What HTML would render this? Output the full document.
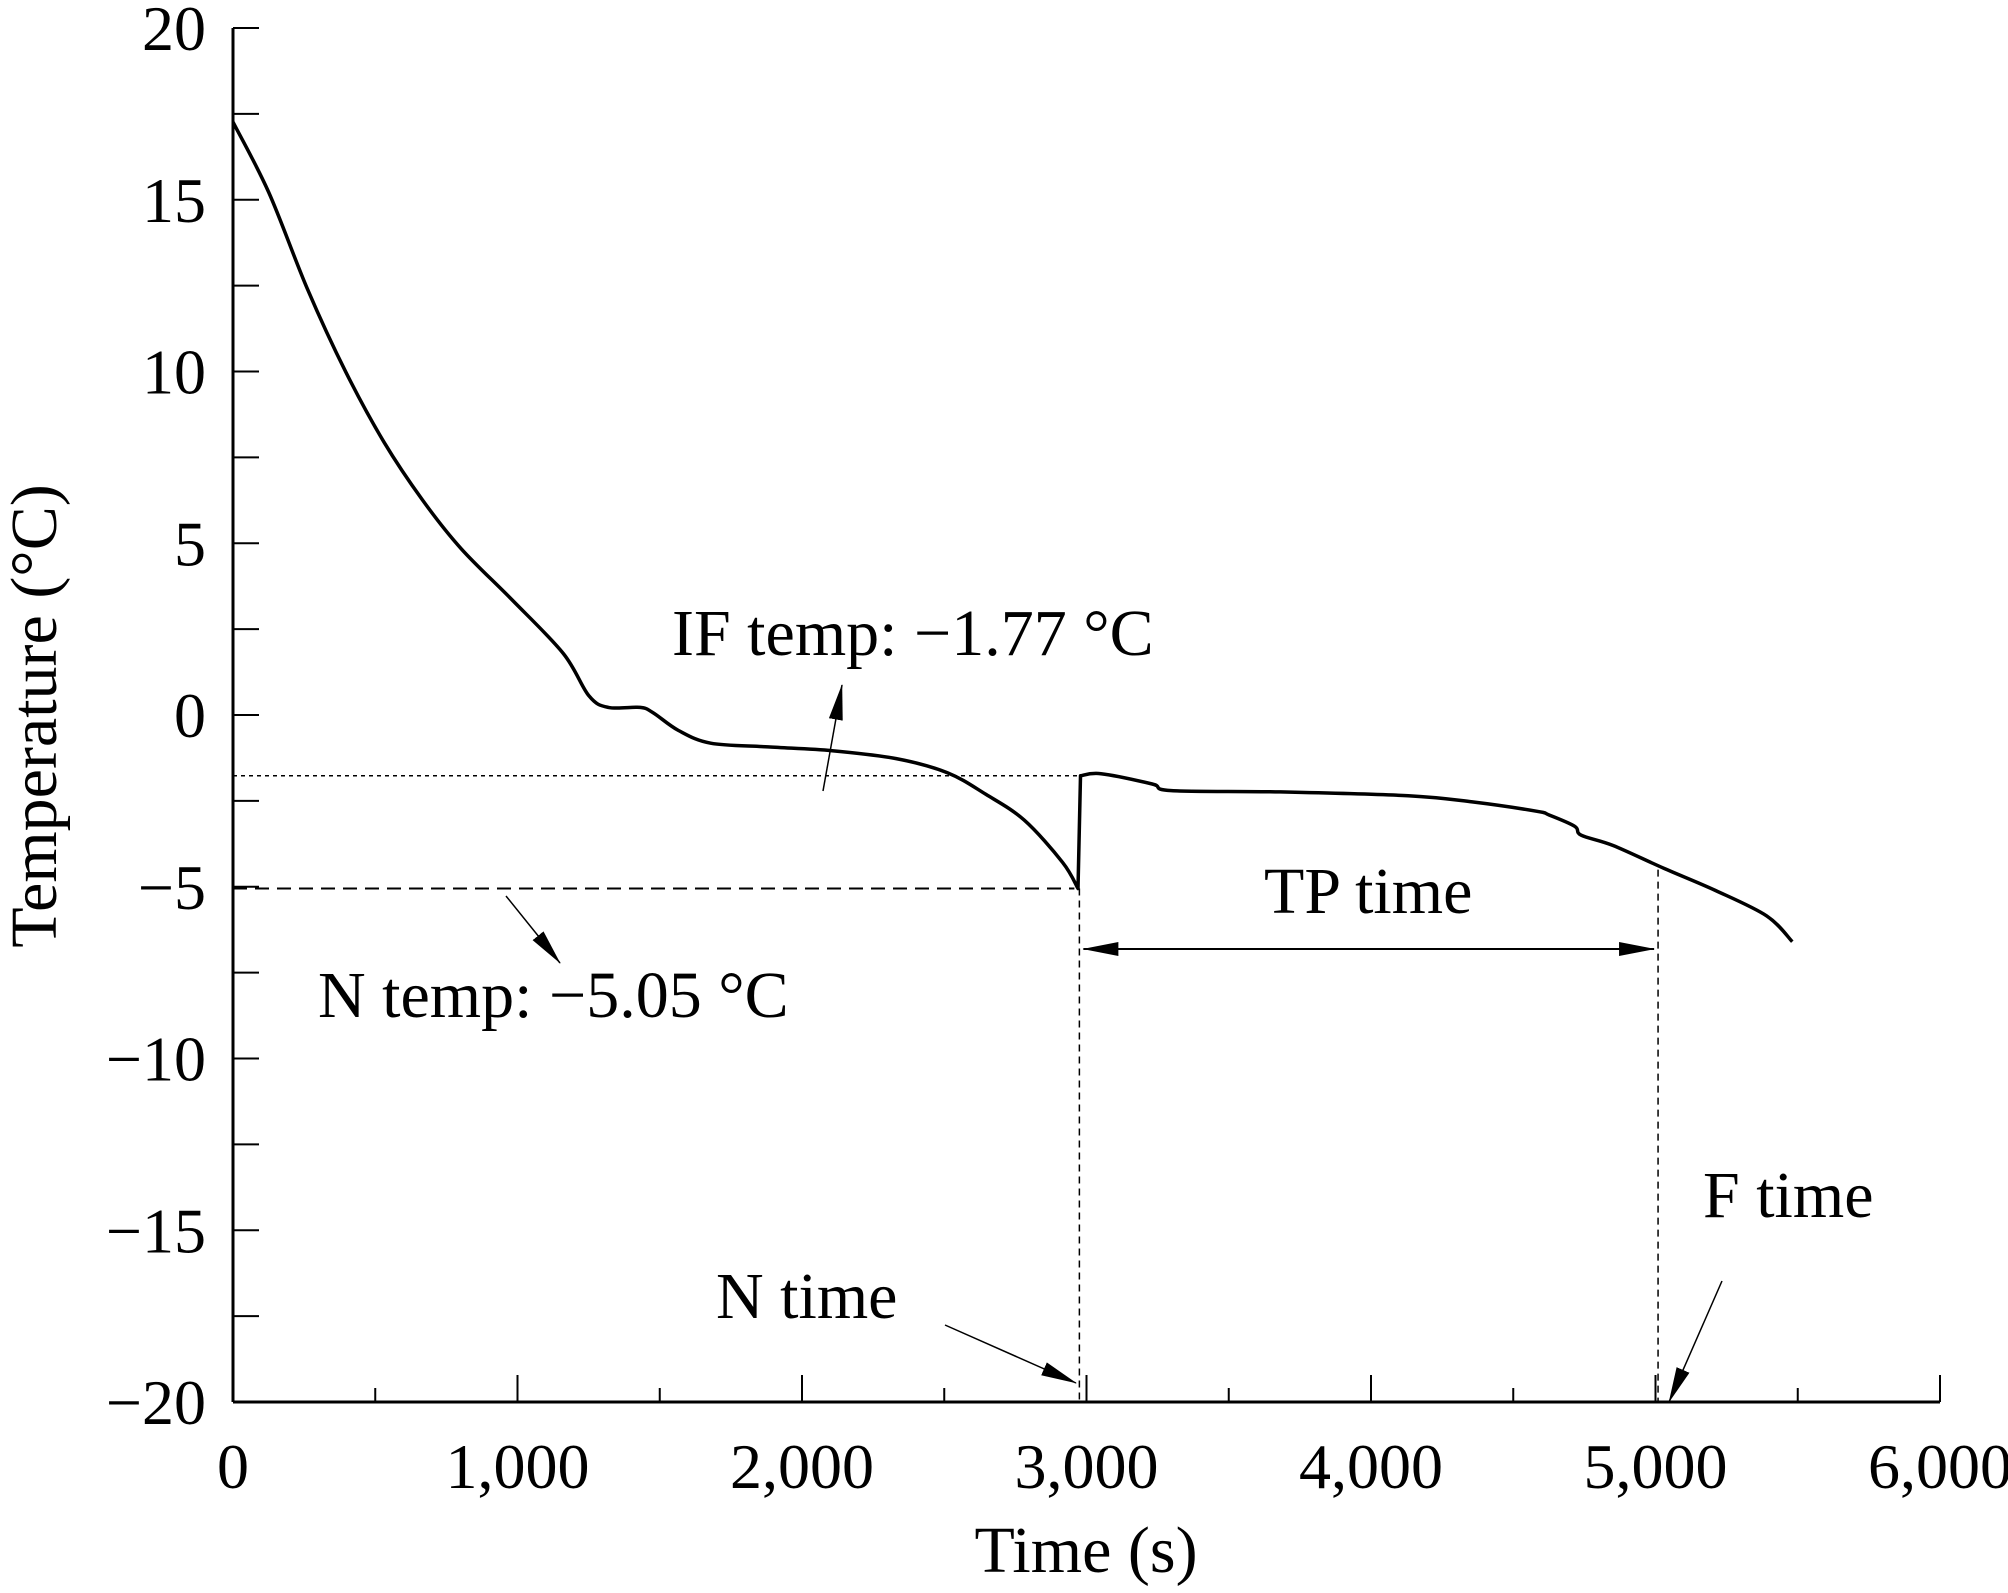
<!DOCTYPE html>
<html><head><meta charset="utf-8"><style>
html,body{margin:0;padding:0;background:#fff;}
svg{display:block;font-family:"Liberation Serif",serif;}
</style></head><body>
<svg id="chart" width="2008" height="1593" viewBox="0 0 2008 1593" xmlns="http://www.w3.org/2000/svg">
<defs>
<marker id="ahs" markerWidth="36" markerHeight="14" refX="35" refY="7" orient="auto-start-reverse" markerUnits="userSpaceOnUse" viewBox="0 0 36 14"><path d="M0,0 L36,7 L0,14 z" fill="#000"/></marker>
</defs>
<g id="axes"></g>
<g id="annot"></g>
<g id="series"></g>
</svg>
<script>
const times = [0,126,261,396,531,666,801,981,1161,1251,1319,1431,1476,1566,1679,1881,2106,2331,2511,2646,2781,2916,2970,2979,3051,3231,3299,3681,4131,4356,4581,4626,4716,4739,4851,5031,5211,5391,5481];
const temps = [17.26,15.21,12.41,9.99,7.94,6.26,4.85,3.35,1.79,0.56,0.22,0.22,0.07,-0.45,-0.82,-0.93,-1.04,-1.27,-1.68,-2.31,-3.06,-4.29,-5.05,-1.77,-1.71,-2.01,-2.2,-2.24,-2.35,-2.53,-2.80,-2.91,-3.24,-3.50,-3.80,-4.47,-5.11,-5.85,-6.60];
const xTicks = [0,1000,2000,3000,4000,5000,6000];
const xTickLabels = ["0","1,000","2,000","3,000","4,000","5,000","6,000"];
const yTicks = [20,15,10,5,0,-5,-10,-15,-20];
const yTickLabels = ["20","15","10","5","0","\u22125","\u221210","\u221215","\u221220"];
const nTemp = -5.05, ifTemp = -1.77, nTime = 2975, fTime = 5009;

const X0=233,X1=1940,Y0=28,Y1=1402;
const sx = t => X0 + (t-0)/6000*(X1-X0);
const sy = v => Y0 + (20-v)/40*(Y1-Y0);
const NS="http://www.w3.org/2000/svg";
function mk(tag,attrs,parent){const e=document.createElementNS(NS,tag);for(const k in attrs)e.setAttribute(k,attrs[k]);parent.appendChild(e);return e;}
const ax=document.getElementById('axes'), an=document.getElementById('annot'), se=document.getElementById('series');

let e;
e=mk('line',{x1:X0,y1:Y0,x2:X0,y2:Y1,stroke:'#000','stroke-width':3},ax);


e=mk('line',{x1:X0,y1:Y1,x2:X1,y2:Y1,stroke:'#000','stroke-width':3},ax);



for(let t=0;t<=6000;t+=500){
  const maj = t%1000===0;
  e=mk('line',{x1:sx(t),y1:Y1,x2:sx(t),y2:Y1-(maj?27:14),stroke:'#000','stroke-width':2},ax);
  
  
}
xTicks.forEach((t,i)=>{
  e=mk('text',{x:sx(t),y:1488,'text-anchor':'middle','font-size':64},ax);
  e.textContent=xTickLabels[i];
  
  
});
for(let v=-20;v<=20;v+=2.5){
  e=mk('line',{x1:X0,y1:sy(v),x2:X0+26,y2:sy(v),stroke:'#000','stroke-width':2},ax);
  
  
}
yTicks.forEach((v,i)=>{
  e=mk('text',{x:206,y:sy(v)+22,'text-anchor':'end','font-size':64},ax);
  e.textContent=yTickLabels[i];
  
  
});
e=mk('text',{x:1086,y:1572,'text-anchor':'middle','font-size':66},ax);
e.textContent='Time (s)';


e=mk('text',{x:0,y:0,'text-anchor':'middle','font-size':66,transform:'translate(56,716) rotate(-90)'},ax);
e.textContent='Temperature (\u00B0C)';



e=mk('line',{x1:X0,y1:sy(ifTemp),x2:sx(nTime),y2:sy(ifTemp),stroke:'#000','stroke-width':1.5,'stroke-dasharray':'4 4'},an);


e=mk('line',{x1:X0,y1:sy(nTemp),x2:sx(nTime)-5,y2:sy(nTemp),stroke:'#000','stroke-width':2,'stroke-dasharray':'14 8'},an);


e=mk('line',{x1:sx(nTime),y1:sy(nTemp),x2:sx(nTime),y2:Y1,stroke:'#000','stroke-width':1.5,'stroke-dasharray':'7 5'},an);


e=mk('line',{x1:sx(fTime),y1:sy(-4.5),x2:sx(fTime),y2:Y1,stroke:'#000','stroke-width':1.5,'stroke-dasharray':'7 5'},an);


e=mk('line',{x1:sx(nTime)+4,y1:949,x2:sx(fTime)-4,y2:949,stroke:'#000','stroke-width':2,'marker-start':'url(#ahs)','marker-end':'url(#ahs)'},an);



function label(txt,x,y){
  const t=mk('text',{x:x,y:y,'font-size':66},an);t.textContent=txt;
  return t;
}
e=label('IF temp: \u22121.77 \u00B0C',672,655);


e=label('N temp: \u22125.05 \u00B0C',318,1017);


e=label('TP time',1264,913);


e=label('N time',716,1318);


e=label('F time',1703,1217);



function arrow(x1,y1,x2,y2){return mk('line',{x1:x1,y1:y1,x2:x2,y2:y2,stroke:'#000','stroke-width':1.5,'marker-end':'url(#ahs)'},an);}
e=arrow(823,791,842,685);


e=arrow(506,896,560,963);


e=arrow(945,1325,1076,1383);


e=arrow(1722,1281,1669,1402);



// smooth path (Catmull-Rom), with a sharp break at the nucleation jump
const pts=times.map((t,i)=>[sx(t),sy(temps[i])]);
let jump=1;for(let i=1;i<temps.length;i++){if(temps[i]-temps[i-1]>temps[jump]-temps[jump-1])jump=i;}
function seg(p){
  let s='M'+p[0][0].toFixed(1)+','+p[0][1].toFixed(1);
  for(let i=0;i<p.length-1;i++){
    const p0=p[Math.max(0,i-1)],p1=p[i],p2=p[i+1],p3=p[Math.min(p.length-1,i+2)];
    const c1=[p1[0]+(p2[0]-p0[0])/6,p1[1]+(p2[1]-p0[1])/6];
    const c2=[p2[0]-(p3[0]-p1[0])/6,p2[1]-(p3[1]-p1[1])/6];
    s+=' C'+c1[0].toFixed(1)+','+c1[1].toFixed(1)+' '+c2[0].toFixed(1)+','+c2[1].toFixed(1)+' '+p2[0].toFixed(1)+','+p2[1].toFixed(1);
  }
  return s;
}
const a=pts.slice(0,jump), b=pts.slice(jump);
const d=seg(a)+' L'+b[0][0].toFixed(1)+','+b[0][1].toFixed(1)+' '+seg(b).replace(/^M/,'L');
e=mk('path',{d:d,fill:'none',stroke:'#000','stroke-width':3.5,'stroke-linejoin':'round'},se);


</script>
</body></html>
